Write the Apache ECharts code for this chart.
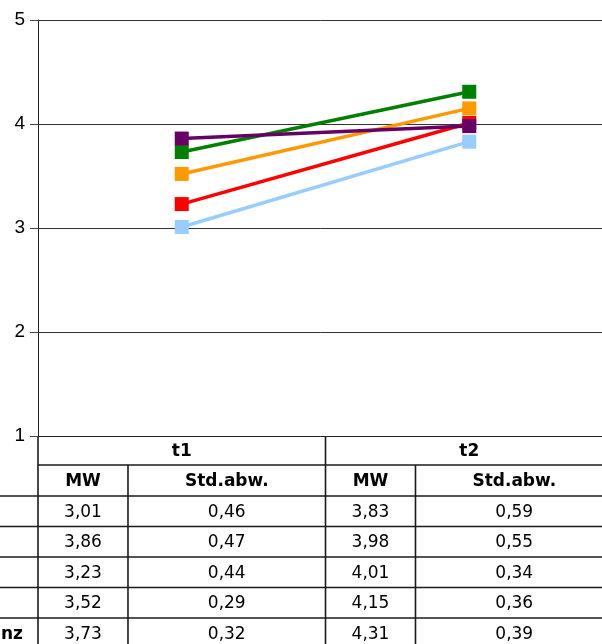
<!DOCTYPE html>
<html>
<head>
<meta charset="utf-8">
<script src="https://cdn.jsdelivr.net/npm/echarts@6/dist/echarts.min.js"></script>
<style>
html,body{margin:0;padding:0;background:#fff;}
#chart{width:602px;height:644px;}
</style>
</head>
<body>
<div id="chart"></div>
<script>
// ---- data ----
var categories = ['t1', 't2'];
var rowLabels = ['', '', '', '', 'nz'];
var seriesColors = ['#99CCFF', '#660066', '#FF0000', '#FF9900', '#008000'];
var meanT1 = [3.01, 3.86, 3.23, 3.52, 3.73];
var meanT2 = [3.83, 3.98, 4.01, 4.15, 4.31];
var sdT1 = [0.46, 0.47, 0.44, 0.29, 0.32];
var sdT2 = [0.59, 0.55, 0.34, 0.36, 0.39];
var yTicks = [1, 2, 3, 4, 5];
var colHeaders = ['MW', 'Std.abw.'];

function fmt(v) { return v.toFixed(2).replace('.', ','); }

var chart = echarts.init(document.getElementById('chart'), null, {renderer: 'canvas'});

var series = meanT1.map(function (v, i) {
  return {
    type: 'line',
    data: [meanT1[i], meanT2[i]],
    symbol: 'rect',
    symbolSize: 14,
    z: i === 1 ? 5 : 3,
    lineStyle: {width: 3.5, color: seriesColors[i]},
    itemStyle: {color: seriesColors[i]},
    animation: false
  };
});

chart.setOption({
  animation: false,
  grid: {left: 38, top: 20, width: 575, height: 416, outerBoundsMode: 'none', containLabel: false},
  xAxis: {
    type: 'category',
    data: categories,
    boundaryGap: true,
    axisLine: {show: true, lineStyle: {color: '#222', width: 1}},
    axisTick: {show: false},
    axisLabel: {show: false},
    splitLine: {show: false}
  },
  yAxis: {
    type: 'value',
    min: yTicks[0],
    max: yTicks[yTicks.length - 1],
    interval: 1,
    axisLine: {show: true, lineStyle: {color: '#222', width: 1}},
    axisTick: {show: true, length: 8, lineStyle: {color: '#444'}},
    axisLabel: {
      fontFamily: 'Liberation Sans, Arial, sans-serif',
      fontSize: 19, color: '#000', margin: 13
    },
    splitLine: {show: true, lineStyle: {color: '#333', width: 1}}
  },
  series: series
});

// ---- table below the plot, positioned from the axes ----
function buildTable() {
  var c0 = chart.convertToPixel({xAxisIndex: 0}, 0);
  var c1 = chart.convertToPixel({xAxisIndex: 0}, 1);
  var catW = c1 - c0;
  var top = chart.convertToPixel({yAxisIndex: 0}, yTicks[0]);
  var headerH = 29, subH = 31, rowH = 30.5;
  var bottom = 660;
  var font = '"DejaVu Sans", "Noto Sans", sans-serif';
  var fs = 17;
  var lineColor = '#1a1a1a';
  var lw = 1.6;
  var els = [];
  function hline(x1, x2, y) {
    els.push({type: 'line', shape: {x1: x1, y1: y, x2: x2, y2: y}, style: {stroke: lineColor, lineWidth: lw}, silent: true});
  }
  function vline(x, y1, y2) {
    els.push({type: 'line', shape: {x1: x, y1: y1, x2: x, y2: y2}, style: {stroke: lineColor, lineWidth: lw}, silent: true});
  }
  function txt(s, x, y, bold, align) {
    els.push({type: 'text', x: x, y: y, style: {text: s, fill: '#000', font: (bold ? 'bold ' : '') + fs + 'px ' + font, align: align || 'center', verticalAlign: 'middle'}, silent: true});
  }
  var mwFrac = 0.313;
  var leftX = c0 - catW / 2;
  var rightX = c1 + catW / 2;
  var yHead = top + headerH;
  var ySub = yHead + subH;
  hline(leftX, rightX, yHead);
  hline(0, rightX, ySub);
  for (var r = 0; r < meanT1.length; r++) {
    hline(0, rightX, ySub + rowH * (r + 1));
  }
  var catsMean = [meanT1, meanT2];
  var catsSd = [sdT1, sdT2];
  for (var k = 0; k < categories.length; k++) {
    var cx = chart.convertToPixel({xAxisIndex: 0}, k);
    var lx = cx - catW / 2;
    var mx = lx + catW * mwFrac;
    vline(lx, top, bottom);
    vline(mx, yHead, bottom);
    txt(categories[k], cx, top + headerH / 2 + 1, true);
    txt(colHeaders[0], (lx + mx) / 2, yHead + subH / 2 + 1, true);
    txt(colHeaders[1], (mx + lx + catW) / 2, yHead + subH / 2 + 1, true);
    for (var r2 = 0; r2 < meanT1.length; r2++) {
      var yy = ySub + rowH * r2 + rowH / 2 + 1;
      txt(fmt(catsMean[k][r2]), (lx + mx) / 2, yy, false);
      txt(fmt(catsSd[k][r2]), (mx + lx + catW) / 2, yy, false);
    }
  }
  for (var r3 = 0; r3 < rowLabels.length; r3++) {
    if (rowLabels[r3]) txt(rowLabels[r3], leftX - 15, ySub + rowH * r3 + rowH / 2 + 1, true, 'right');
  }
  chart.setOption({graphic: {elements: els}});
}
buildTable();
</script>
</body>
</html>
